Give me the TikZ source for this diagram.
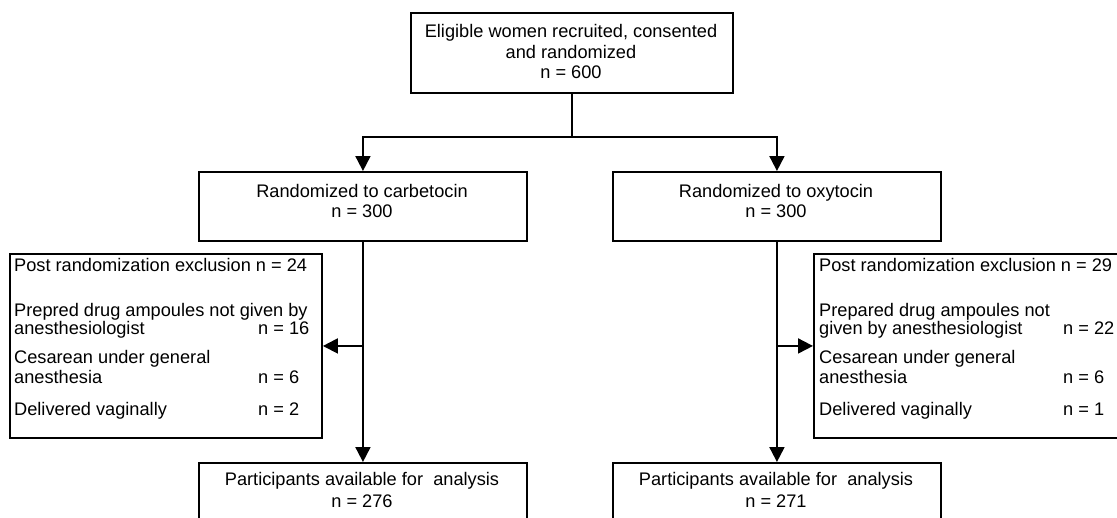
\documentclass[tikz,border=0pt]{standalone}
\usepackage{fontspec}
\setmainfont{Liberation Sans}
\usetikzlibrary{arrows.meta}
\begin{document}
\begin{tikzpicture}[x=1pt,y=-1pt,
  box/.style={draw, line width=1.9pt, inner sep=0pt, anchor=north west},
  txt/.style={inner sep=0pt, anchor=base, font=\fontsize{18.2}{20.5}\selectfont},
  ltxt/.style={txt, anchor=base west},
  conn/.style={line width=1.9pt},
  arr/.style={conn, -{Triangle[width=15pt,length=15pt]}}]
\useasboundingbox (0,0) rectangle (1117,517);
% boxes
\node[box, minimum width=322pt, minimum height=80pt] (top) at (410,12) {};
\node[box, minimum width=328pt, minimum height=69pt] (carb) at (198,171) {};
\node[box, minimum width=328pt, minimum height=69pt] (oxy) at (612,171) {};
\node[box, minimum width=312pt, minimum height=184pt] (exL) at (9,253) {};
\node[box, minimum width=313pt, minimum height=184pt] (exR) at (813,253) {};
\node[box, minimum width=328pt, minimum height=70pt] (anL) at (198,462) {};
\node[box, minimum width=328pt, minimum height=70pt] (anR) at (612,462) {};
% texts
\node[txt] (t1) at (571,37) {Eligible women recruited, consented};
\node[txt] (t2) at (571,58) {and randomized};
\node[txt] (t3) at (571,78) {n = 600};
\node[txt] (c1) at (362,197) {Randomized to carbetocin};
\node[txt] (c2) at (362,217) {n = 300};
\node[txt] (o1) at (776,197) {Randomized to oxytocin};
\node[txt] (o2) at (776,217) {n = 300};
\node[txt] (a1) at (362,485) {Participants available for~ analysis};
\node[txt] (a2) at (362,507) {n = 276};
\node[txt] (b1) at (776,485) {Participants available for~ analysis};
\node[txt] (b2) at (776,507) {n = 271};
% left exclusion
\node[ltxt] (l1) at (14,271) {Post randomization exclusion n = 24};
\node[ltxt] (l2) at (14,316) {Prepred drug ampoules not given by};
\node[ltxt] (l3) at (14,334) {anesthesiologist};
\node[ltxt] (l3n) at (258,334) {n = 16};
\node[ltxt] (l4) at (14,363) {Cesarean under general};
\node[ltxt] (l5) at (14,383) {anesthesia};
\node[ltxt] (l5n) at (258,383) {n = 6};
\node[ltxt] (l6) at (14,415) {Delivered vaginally};
\node[ltxt] (l6n) at (258,415) {n = 2};
% right exclusion
\node[ltxt] (r1) at (819,271) {Post randomization exclusion n = 29};
\node[ltxt] (r2) at (819,316) {Prepared drug ampoules not};
\node[ltxt] (r3) at (819,334) {given by anesthesiologist};
\node[ltxt] (r3n) at (1063,334) {n = 22};
\node[ltxt] (r4) at (819,363) {Cesarean under general};
\node[ltxt] (r5) at (819,383) {anesthesia};
\node[ltxt] (r5n) at (1063,383) {n = 6};
\node[ltxt] (r6) at (819,415) {Delivered vaginally};
\node[ltxt] (r6n) at (1063,415) {n = 1};
% connectors
\coordinate (split) at (top.south |- 0,137);
\draw[conn] (top.south) -- (split);
\draw[arr] (split) -| (carb.north);
\draw[arr] (split) -| (oxy.north);
\draw[arr] (carb.south) -- (anL.north);
\draw[arr] (oxy.south) -- (anR.north);
\coordinate (jL) at (carb.south |- exL.east);
\coordinate (jR) at (oxy.south |- exR.west);
\draw[arr] (jL) -- (exL.east);
\draw[arr] (jR) -- (exR.west);
\end{tikzpicture}
\end{document}
